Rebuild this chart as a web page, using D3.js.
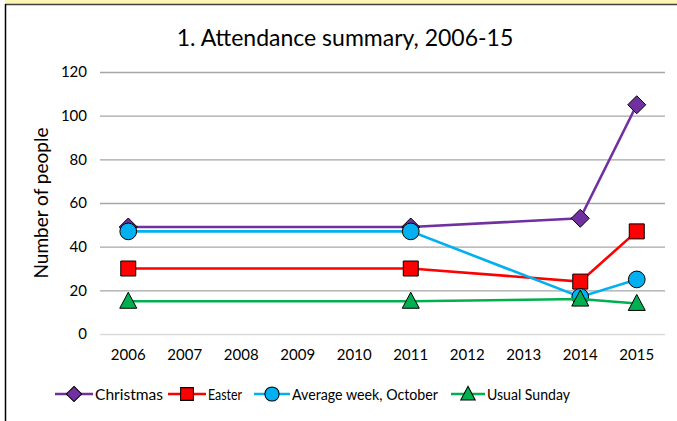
<!DOCTYPE html>
<html><head><meta charset="utf-8">
<script src="https://cdn.jsdelivr.net/npm/d3@7"></script>
<style>body{margin:0;background:#fff;} svg{display:block;}</style>
</head><body>
<script>
const years = ["2006","2007","2008","2009","2010","2011","2012","2013","2014","2015"];
const dataYears = ["2006","2011","2014","2015"];
const christmas = [49, 49, 53, 105];
const easter = [30, 30, 24, 47];
const averageWeek = [47, 47, 17, 25];
const usualSunday = [15, 15, 16, 14];
const yTicks = [0, 20, 40, 60, 80, 100, 120];
const seriesNames = ["Christmas", "Easter", "Average week, October", "Usual Sunday"];

const W = 677, H = 421;
const font = "Lato, 'Open Sans', sans-serif";
const svg = d3.select("body").append("svg").attr("width", W).attr("height", H);
svg.append("rect").attr("x",0).attr("y",0).attr("width",W).attr("height",H).attr("fill","#fff");
svg.append("rect").attr("x",5).attr("y",0).attr("width",W-5).attr("height",4).attr("fill","#fdf5b4");
svg.append("line").attr("x1",5).attr("x2",W).attr("y1",4.5).attr("y2",4.5).attr("stroke","#404040").attr("stroke-width",1.5);
svg.append("line").attr("x1",5.5).attr("x2",5.5).attr("y1",4).attr("y2",H).attr("stroke","#000").attr("stroke-width",1.5);

const x = d3.scaleBand().domain(years).range([100, 665]);
const y = d3.scaleLinear().domain([0, 120]).range([334, 72]);

// gridlines
svg.append("g").selectAll("line").data(yTicks).join("line")
  .attr("x1", 100).attr("x2", 665)
  .attr("y1", d => y(d)+0.5).attr("y2", d => y(d)+0.5)
  .attr("stroke", d => d === 0 ? "#d9d9d9" : "#a6a6a6").attr("stroke-width", 1.3);

const yAxis = svg.append("g").attr("transform","translate(100,0)")
  .call(d3.axisLeft(y).tickValues(yTicks).tickSize(0).tickPadding(13));
yAxis.select(".domain").remove();
yAxis.selectAll("text").attr("font-family", font).attr("font-size", 15).attr("fill","#000");

const xAxis = svg.append("g").attr("transform","translate(0,334)")
  .call(d3.axisBottom(x).tickSize(0).tickPadding(15));
xAxis.select(".domain").remove();
xAxis.selectAll("text").attr("font-family", font).attr("font-size", 15).attr("fill","#000");

svg.append("text").attr("x", 345).attr("y", 46).attr("text-anchor","middle")
  .attr("font-family", font).attr("font-size", 23).attr("fill","#000")
  .text("1. Attendance summary, 2006-15");

svg.append("text").attr("transform","translate(48,203) rotate(-90)").attr("text-anchor","middle")
  .attr("font-family", font).attr("font-size", 19).attr("fill","#000")
  .text("Number of people");

const series = [
  {name: seriesNames[0], vals: christmas, color: "#7030a0", marker: "diamond"},
  {name: seriesNames[1], vals: easter, color: "#ff0000", marker: "square"},
  {name: seriesNames[2], vals: averageWeek, color: "#00b0f0", marker: "circle"},
  {name: seriesNames[3], vals: usualSunday, color: "#00b050", marker: "triangle"}
];
const markerPath = {
  diamond: "M0,-9L9,0L0,9L-9,0Z",
  square: "M-7.5,-7.5H7.5V7.5H-7.5Z",
  circle: d3.symbol(d3.symbolCircle, 220)(),
  triangle: "M0,-9L8.5,7L-8.5,7Z"
};
const line = d3.line().x(d => x(d[0]) + x.bandwidth()/2).y(d => y(d[1]));

series.forEach(s => {
  const pts = dataYears.map((yr, i) => [yr, s.vals[i]]);
  svg.append("path").attr("d", line(pts)).attr("fill","none").attr("stroke", s.color).attr("stroke-width", 2.6);
  svg.append("g").selectAll("path").data(pts).join("path")
    .attr("transform", d => `translate(${x(d[0]) + x.bandwidth()/2},${y(d[1])})`)
    .attr("d", markerPath[s.marker]).attr("fill", s.color).attr("stroke","#000").attr("stroke-width",1);
});

// legend
const legendItems = [
  {x0: 55, textX: 95, w: 68},
  {x0: 168, textX: 208, w: 34},
  {x0: 254, textX: 292, w: 146},
  {x0: 451, textX: 487, w: 83}
];
const ly = 394;
series.forEach((s, i) => {
  const L = legendItems[i];
  const g = svg.append("g");
  g.append("line").attr("x1", L.x0).attr("x2", L.textX - 2).attr("y1", ly).attr("y2", ly).attr("stroke", s.color).attr("stroke-width", 2.6);
  const cx = (L.x0 + L.textX - 2)/2;
  g.append("path").attr("transform", `translate(${cx},${ly}) scale(0.85)`).attr("d", markerPath[s.marker])
    .attr("fill", s.color).attr("stroke","#000").attr("stroke-width",1.2);
  g.append("text").attr("x", L.textX).attr("y", ly + 5.5).attr("font-family", font).attr("font-size", 15.5)
    .attr("textLength", L.w).attr("lengthAdjust", "spacingAndGlyphs").attr("fill","#000").text(s.name);
});
</script>
</body></html>
